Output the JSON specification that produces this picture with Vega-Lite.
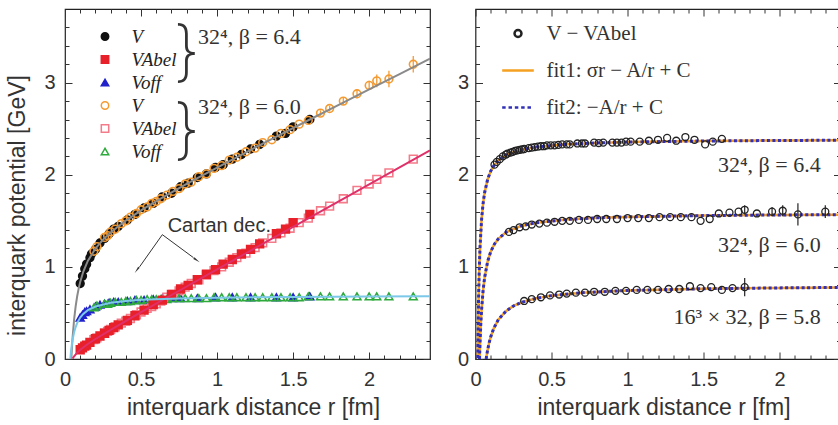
{
  "$schema": "https://vega.github.io/schema/vega-lite/v6.json",
  "padding": {"left": 5, "top": 7, "right": 0, "bottom": 0},
  "spacing": 24.5,
  "background": "white",
  "resolve": {
    "scale": {"color": "independent", "shape": "independent", "fill": "independent", "stroke": "independent", "size": "independent"},
    "legend": {"color": "independent", "shape": "independent", "fill": "independent", "stroke": "independent", "size": "independent"}
  },
  "config": {
    "view": {"stroke": "#222222", "strokeWidth": 1.2},
    "axis": {"domain": false, "grid": false, "labelFont": "Liberation Sans", "labelFontSize": 20, "labelColor": "#333333", "titleFont": "Liberation Sans", "titleFontSize": 23, "titleFontWeight": "normal", "titleColor": "#333333", "tickColor": "#333333", "tickWidth": 1},
    "legend": {"labelFontWeight": "normal"}
  },
  "datasets": {
    "pts": [
      {"s":"Voff|6.4","r":0.10,"V":0.45},{"s":"Voff|6.4","r":0.115,"V":0.48},{"s":"Voff|6.4","r":0.13,"V":0.51},{"s":"Voff|6.4","r":0.142,"V":0.52},{"s":"Voff|6.4","r":0.164,"V":0.54},{"s":"Voff|6.4","r":0.2,"V":0.57},{"s":"Voff|6.4","r":0.23,"V":0.59},{"s":"Voff|6.4","r":0.26,"V":0.60},{"s":"Voff|6.4","r":0.29,"V":0.61},{"s":"Voff|6.4","r":0.32,"V":0.62},{"s":"Voff|6.4","r":0.35,"V":0.62},{"s":"Voff|6.4","r":0.41,"V":0.63},{"s":"Voff|6.4","r":0.46,"V":0.64},{"s":"Voff|6.4","r":0.52,"V":0.64},{"s":"Voff|6.4","r":0.58,"V":0.65},{"s":"Voff|6.4","r":0.64,"V":0.66},{"s":"Voff|6.4","r":0.70,"V":0.66},{"s":"Voff|6.4","r":0.76,"V":0.66},{"s":"Voff|6.4","r":0.87,"V":0.66},{"s":"Voff|6.4","r":0.99,"V":0.67},{"s":"Voff|6.4","r":1.10,"V":0.67},{"s":"Voff|6.4","r":1.22,"V":0.67},{"s":"Voff|6.4","r":1.39,"V":0.67},{"s":"Voff|6.4","r":1.50,"V":0.67},{"s":"Voff|6.4","r":1.61,"V":0.68},
      {"s":"VAbel|6.0","r":0.19,"V":0.21},{"s":"VAbel|6.0","r":0.21,"V":0.23},{"s":"VAbel|6.0","r":0.26,"V":0.28},{"s":"VAbel|6.0","r":0.28,"V":0.30},{"s":"VAbel|6.0","r":0.30,"V":0.32},{"s":"VAbel|6.0","r":0.33,"V":0.35},{"s":"VAbel|6.0","r":0.37,"V":0.39},{"s":"VAbel|6.0","r":0.40,"V":0.41},{"s":"VAbel|6.0","r":0.43,"V":0.44},{"s":"VAbel|6.0","r":0.47,"V":0.48},{"s":"VAbel|6.0","r":0.50,"V":0.51},{"s":"VAbel|6.0","r":0.54,"V":0.55},{"s":"VAbel|6.0","r":0.57,"V":0.57},{"s":"VAbel|6.0","r":0.60,"V":0.60},{"s":"VAbel|6.0","r":0.63,"V":0.63},{"s":"VAbel|6.0","r":0.67,"V":0.67},{"s":"VAbel|6.0","r":0.71,"V":0.70},{"s":"VAbel|6.0","r":0.75,"V":0.74},{"s":"VAbel|6.0","r":0.79,"V":0.78},{"s":"VAbel|6.0","r":0.83,"V":0.82},{"s":"VAbel|6.0","r":0.88,"V":0.86},{"s":"VAbel|6.0","r":0.93,"V":0.91},{"s":"VAbel|6.0","r":0.98,"V":0.96},{"s":"VAbel|6.0","r":1.03,"V":1.00},{"s":"VAbel|6.0","r":1.08,"V":1.05},{"s":"VAbel|6.0","r":1.13,"V":1.10},{"s":"VAbel|6.0","r":1.19,"V":1.15},{"s":"VAbel|6.0","r":1.25,"V":1.21},{"s":"VAbel|6.0","r":1.30,"V":1.26},{"s":"VAbel|6.0","r":1.36,"V":1.31},{"s":"VAbel|6.0","r":1.42,"V":1.37},{"s":"VAbel|6.0","r":1.48,"V":1.42},{"s":"VAbel|6.0","r":1.54,"V":1.48},{"s":"VAbel|6.0","r":1.60,"V":1.53},{"s":"VAbel|6.0","r":1.68,"V":1.61},{"s":"VAbel|6.0","r":1.74,"V":1.66},{"s":"VAbel|6.0","r":1.83,"V":1.74},{"s":"VAbel|6.0","r":1.92,"V":1.83},{"s":"VAbel|6.0","r":2.00,"V":1.90},{"s":"VAbel|6.0","r":2.05,"V":1.95},{"s":"VAbel|6.0","r":2.13,"V":2.02},{"s":"VAbel|6.0","r":2.29,"V":2.17},
      {"s":"V|6.4","r":0.10,"V":0.82},{"s":"V|6.4","r":0.115,"V":0.90},{"s":"V|6.4","r":0.13,"V":0.98},{"s":"V|6.4","r":0.142,"V":1.03},{"s":"V|6.4","r":0.164,"V":1.10},{"s":"V|6.4","r":0.174,"V":1.14},{"s":"V|6.4","r":0.2,"V":1.19},{"s":"V|6.4","r":0.23,"V":1.26},{"s":"V|6.4","r":0.26,"V":1.31},{"s":"V|6.4","r":0.29,"V":1.36},{"s":"V|6.4","r":0.32,"V":1.41},{"s":"V|6.4","r":0.35,"V":1.44},{"s":"V|6.4","r":0.41,"V":1.51},{"s":"V|6.4","r":0.46,"V":1.57},{"s":"V|6.4","r":0.52,"V":1.64},{"s":"V|6.4","r":0.58,"V":1.69},{"s":"V|6.4","r":0.64,"V":1.76},{"s":"V|6.4","r":0.70,"V":1.80},{"s":"V|6.4","r":0.76,"V":1.87},{"s":"V|6.4","r":0.81,"V":1.91},{"s":"V|6.4","r":0.87,"V":1.97},{"s":"V|6.4","r":0.93,"V":2.01},{"s":"V|6.4","r":0.99,"V":2.08},{"s":"V|6.4","r":1.04,"V":2.11},{"s":"V|6.4","r":1.10,"V":2.17},{"s":"V|6.4","r":1.16,"V":2.22},{"s":"V|6.4","r":1.22,"V":2.28},{"s":"V|6.4","r":1.28,"V":2.33},{"s":"V|6.4","r":1.39,"V":2.42},{"s":"V|6.4","r":1.45,"V":2.45},{"s":"V|6.4","r":1.50,"V":2.52},{"s":"V|6.4","r":1.61,"V":2.60},
      {"s":"V|6.0","r":0.19,"V":1.17},{"s":"V|6.0","r":0.21,"V":1.22},{"s":"V|6.0","r":0.26,"V":1.32},{"s":"V|6.0","r":0.28,"V":1.34},{"s":"V|6.0","r":0.30,"V":1.38},{"s":"V|6.0","r":0.33,"V":1.41},{"s":"V|6.0","r":0.37,"V":1.47},{"s":"V|6.0","r":0.40,"V":1.50},{"s":"V|6.0","r":0.43,"V":1.54},{"s":"V|6.0","r":0.47,"V":1.58},{"s":"V|6.0","r":0.50,"V":1.62},{"s":"V|6.0","r":0.54,"V":1.65},{"s":"V|6.0","r":0.57,"V":1.69},{"s":"V|6.0","r":0.60,"V":1.71},{"s":"V|6.0","r":0.63,"V":1.74},{"s":"V|6.0","r":0.67,"V":1.78},{"s":"V|6.0","r":0.71,"V":1.82},{"s":"V|6.0","r":0.75,"V":1.85},{"s":"V|6.0","r":0.79,"V":1.90},{"s":"V|6.0","r":0.83,"V":1.92},{"s":"V|6.0","r":0.88,"V":1.98},{"s":"V|6.0","r":0.93,"V":2.01},{"s":"V|6.0","r":0.98,"V":2.07},{"s":"V|6.0","r":1.03,"V":2.10},{"s":"V|6.0","r":1.08,"V":2.16},{"s":"V|6.0","r":1.13,"V":2.19},{"s":"V|6.0","r":1.19,"V":2.25},{"s":"V|6.0","r":1.25,"V":2.29},{"s":"V|6.0","r":1.30,"V":2.35},{"s":"V|6.0","r":1.36,"V":2.38},{"s":"V|6.0","r":1.42,"V":2.45},{"s":"V|6.0","r":1.48,"V":2.49},{"s":"V|6.0","r":1.54,"V":2.55},{"s":"V|6.0","r":1.60,"V":2.59},{"s":"V|6.0","r":1.68,"V":2.67},{"s":"V|6.0","r":1.74,"V":2.72},{"s":"V|6.0","r":1.83,"V":2.80},{"s":"V|6.0","r":1.92,"V":2.88},{"s":"V|6.0","r":2.00,"V":2.97},{"s":"V|6.0","r":2.05,"V":3.02},{"s":"V|6.0","r":2.13,"V":3.04},{"s":"V|6.0","r":2.29,"V":3.20},
      {"s":"Voff|6.0","r":0.19,"V":0.56},{"s":"Voff|6.0","r":0.21,"V":0.58},{"s":"Voff|6.0","r":0.26,"V":0.60},{"s":"Voff|6.0","r":0.28,"V":0.60},{"s":"Voff|6.0","r":0.30,"V":0.61},{"s":"Voff|6.0","r":0.33,"V":0.62},{"s":"Voff|6.0","r":0.37,"V":0.62},{"s":"Voff|6.0","r":0.40,"V":0.63},{"s":"Voff|6.0","r":0.43,"V":0.63},{"s":"Voff|6.0","r":0.47,"V":0.64},{"s":"Voff|6.0","r":0.50,"V":0.64},{"s":"Voff|6.0","r":0.54,"V":0.65},{"s":"Voff|6.0","r":0.57,"V":0.65},{"s":"Voff|6.0","r":0.60,"V":0.65},{"s":"Voff|6.0","r":0.63,"V":0.65},{"s":"Voff|6.0","r":0.67,"V":0.65},{"s":"Voff|6.0","r":0.71,"V":0.66},{"s":"Voff|6.0","r":0.75,"V":0.66},{"s":"Voff|6.0","r":0.79,"V":0.66},{"s":"Voff|6.0","r":0.83,"V":0.66},{"s":"Voff|6.0","r":0.88,"V":0.66},{"s":"Voff|6.0","r":0.93,"V":0.66},{"s":"Voff|6.0","r":0.98,"V":0.67},{"s":"Voff|6.0","r":1.03,"V":0.67},{"s":"Voff|6.0","r":1.08,"V":0.67},{"s":"Voff|6.0","r":1.13,"V":0.67},{"s":"Voff|6.0","r":1.19,"V":0.67},{"s":"Voff|6.0","r":1.25,"V":0.67},{"s":"Voff|6.0","r":1.30,"V":0.67},{"s":"Voff|6.0","r":1.36,"V":0.67},{"s":"Voff|6.0","r":1.42,"V":0.67},{"s":"Voff|6.0","r":1.48,"V":0.67},{"s":"Voff|6.0","r":1.54,"V":0.67},{"s":"Voff|6.0","r":1.60,"V":0.68},{"s":"Voff|6.0","r":1.68,"V":0.68},{"s":"Voff|6.0","r":1.74,"V":0.68},{"s":"Voff|6.0","r":1.83,"V":0.68},{"s":"Voff|6.0","r":1.92,"V":0.68},{"s":"Voff|6.0","r":2.00,"V":0.68},{"s":"Voff|6.0","r":2.05,"V":0.68},{"s":"Voff|6.0","r":2.13,"V":0.68},{"s":"Voff|6.0","r":2.29,"V":0.68},
      {"s":"VAbel|6.4","r":0.10,"V":0.10},{"s":"VAbel|6.4","r":0.115,"V":0.12},{"s":"VAbel|6.4","r":0.13,"V":0.14},{"s":"VAbel|6.4","r":0.142,"V":0.15},{"s":"VAbel|6.4","r":0.164,"V":0.18},{"s":"VAbel|6.4","r":0.2,"V":0.22},{"s":"VAbel|6.4","r":0.23,"V":0.25},{"s":"VAbel|6.4","r":0.26,"V":0.28},{"s":"VAbel|6.4","r":0.29,"V":0.31},{"s":"VAbel|6.4","r":0.32,"V":0.34},{"s":"VAbel|6.4","r":0.35,"V":0.37},{"s":"VAbel|6.4","r":0.41,"V":0.42},{"s":"VAbel|6.4","r":0.46,"V":0.47},{"s":"VAbel|6.4","r":0.52,"V":0.53},{"s":"VAbel|6.4","r":0.58,"V":0.59},{"s":"VAbel|6.4","r":0.64,"V":0.64},{"s":"VAbel|6.4","r":0.70,"V":0.70},{"s":"VAbel|6.4","r":0.76,"V":0.76},{"s":"VAbel|6.4","r":0.81,"V":0.80},{"s":"VAbel|6.4","r":0.87,"V":0.86},{"s":"VAbel|6.4","r":0.93,"V":0.92},{"s":"VAbel|6.4","r":0.99,"V":0.97},{"s":"VAbel|6.4","r":1.04,"V":1.03},{"s":"VAbel|6.4","r":1.10,"V":1.08},{"s":"VAbel|6.4","r":1.16,"V":1.14},{"s":"VAbel|6.4","r":1.22,"V":1.19},{"s":"VAbel|6.4","r":1.28,"V":1.25},{"s":"VAbel|6.4","r":1.39,"V":1.36},{"s":"VAbel|6.4","r":1.45,"V":1.41},{"s":"VAbel|6.4","r":1.50,"V":1.48},{"s":"VAbel|6.4","r":1.61,"V":1.57}
    ],
    "err": [
      {"r":1.68,"lo":2.64,"hi":2.70},{"r":1.74,"lo":2.69,"hi":2.75},{"r":1.83,"lo":2.76,"hi":2.84},{"r":1.92,"lo":2.83,"hi":2.93},{"r":2.00,"lo":2.92,"hi":3.02},{"r":2.05,"lo":2.95,"hi":3.09},{"r":2.13,"lo":2.95,"hi":3.13},{"r":2.29,"lo":3.11,"hi":3.29}
    ],
    "fits": [
      {"f":"V","r":0.0415,"V":0},{"f":"V","r":0.045,"V":0.107},{"f":"V","r":0.05,"V":0.236},{"f":"V","r":0.06,"V":0.431},{"f":"V","r":0.07,"V":0.572},{"f":"V","r":0.08,"V":0.681},{"f":"V","r":0.09,"V":0.767},{"f":"V","r":0.1,"V":0.837},{"f":"V","r":0.12,"V":0.947},{"f":"V","r":0.15,"V":1.065},{"f":"V","r":0.2,"V":1.199},{"f":"V","r":0.25,"V":1.296},{"f":"V","r":0.3,"V":1.374},{"f":"V","r":0.4,"V":1.503},{"f":"V","r":0.5,"V":1.613},{"f":"V","r":0.6,"V":1.714},{"f":"V","r":0.8,"V":1.901},{"f":"V","r":1.0,"V":2.079},{"f":"V","r":1.2,"V":2.252},{"f":"V","r":1.4,"V":2.423},{"f":"V","r":1.6,"V":2.592},{"f":"V","r":1.8,"V":2.760},{"f":"V","r":2.0,"V":2.927},{"f":"V","r":2.2,"V":3.094},{"f":"V","r":2.4,"V":3.260},
      {"f":"VAbel","r":0.05,"V":0.004},{"f":"VAbel","r":0.06,"V":0.030},{"f":"VAbel","r":0.08,"V":0.069},{"f":"VAbel","r":0.1,"V":0.1},{"f":"VAbel","r":0.15,"V":0.163},{"f":"VAbel","r":0.2,"V":0.217},{"f":"VAbel","r":0.3,"V":0.317},{"f":"VAbel","r":0.5,"V":0.508},{"f":"VAbel","r":0.75,"V":0.741},{"f":"VAbel","r":1.0,"V":0.973},{"f":"VAbel","r":1.5,"V":1.435},{"f":"VAbel","r":2.0,"V":1.896},{"f":"VAbel","r":2.4,"V":2.264},
      {"f":"Voff","r":0.035,"V":0.004},{"f":"Voff","r":0.04,"V":0.09},{"f":"Voff","r":0.045,"V":0.157},{"f":"Voff","r":0.05,"V":0.21},{"f":"Voff","r":0.06,"V":0.29},{"f":"Voff","r":0.07,"V":0.347},{"f":"Voff","r":0.08,"V":0.39},{"f":"Voff","r":0.1,"V":0.45},{"f":"Voff","r":0.12,"V":0.49},{"f":"Voff","r":0.15,"V":0.53},{"f":"Voff","r":0.2,"V":0.57},{"f":"Voff","r":0.3,"V":0.61},{"f":"Voff","r":0.4,"V":0.63},{"f":"Voff","r":0.5,"V":0.642},{"f":"Voff","r":0.75,"V":0.658},{"f":"Voff","r":1.0,"V":0.666},{"f":"Voff","r":1.5,"V":0.674},{"f":"Voff","r":2.0,"V":0.678},{"f":"Voff","r":2.4,"V":0.68}
    ],
    "diff": [
      {"lat":"a","r":0.125,"V":2.11},{"lat":"a","r":0.14,"V":2.14},{"lat":"a","r":0.16,"V":2.17},{"lat":"a","r":0.18,"V":2.20},{"lat":"a","r":0.2,"V":2.22},{"lat":"a","r":0.21,"V":2.23},{"lat":"a","r":0.23,"V":2.24},{"lat":"a","r":0.245,"V":2.25},{"lat":"a","r":0.26,"V":2.26},{"lat":"a","r":0.275,"V":2.265},{"lat":"a","r":0.29,"V":2.27},{"lat":"a","r":0.305,"V":2.275},{"lat":"a","r":0.32,"V":2.28},{"lat":"a","r":0.35,"V":2.29},{"lat":"a","r":0.37,"V":2.295},{"lat":"a","r":0.39,"V":2.30},{"lat":"a","r":0.41,"V":2.305},{"lat":"a","r":0.43,"V":2.31},{"lat":"a","r":0.45,"V":2.31},{"lat":"a","r":0.47,"V":2.32},{"lat":"a","r":0.495,"V":2.32},{"lat":"a","r":0.52,"V":2.32},{"lat":"a","r":0.545,"V":2.325},{"lat":"a","r":0.57,"V":2.33},{"lat":"a","r":0.6,"V":2.33},{"lat":"a","r":0.62,"V":2.33},{"lat":"a","r":0.67,"V":2.34},{"lat":"a","r":0.7,"V":2.34},{"lat":"a","r":0.72,"V":2.34},{"lat":"a","r":0.78,"V":2.35},{"lat":"a","r":0.81,"V":2.345},{"lat":"a","r":0.84,"V":2.35},{"lat":"a","r":0.9,"V":2.35},{"lat":"a","r":0.93,"V":2.35},{"lat":"a","r":0.96,"V":2.35},{"lat":"a","r":0.99,"V":2.36},{"lat":"a","r":1.02,"V":2.36},{"lat":"a","r":1.08,"V":2.36},{"lat":"a","r":1.14,"V":2.37},{"lat":"a","r":1.2,"V":2.38},{"lat":"a","r":1.26,"V":2.40},{"lat":"a","r":1.32,"V":2.37},{"lat":"a","r":1.38,"V":2.41},{"lat":"a","r":1.44,"V":2.38},{"lat":"a","r":1.51,"V":2.33},{"lat":"a","r":1.56,"V":2.36},{"lat":"a","r":1.62,"V":2.39},
      {"lat":"b","r":0.22,"V":1.38},{"lat":"b","r":0.25,"V":1.40},{"lat":"b","r":0.29,"V":1.43},{"lat":"b","r":0.33,"V":1.44},{"lat":"b","r":0.37,"V":1.46},{"lat":"b","r":0.42,"V":1.47},{"lat":"b","r":0.47,"V":1.48},{"lat":"b","r":0.52,"V":1.49},{"lat":"b","r":0.57,"V":1.50},{"lat":"b","r":0.62,"V":1.50},{"lat":"b","r":0.68,"V":1.51},{"lat":"b","r":0.74,"V":1.51},{"lat":"b","r":0.8,"V":1.52},{"lat":"b","r":0.86,"V":1.52},{"lat":"b","r":0.93,"V":1.52},{"lat":"b","r":1.0,"V":1.53},{"lat":"b","r":1.07,"V":1.53},{"lat":"b","r":1.14,"V":1.53},{"lat":"b","r":1.21,"V":1.54},{"lat":"b","r":1.28,"V":1.54},{"lat":"b","r":1.35,"V":1.54},{"lat":"b","r":1.42,"V":1.54},{"lat":"b","r":1.48,"V":1.50},{"lat":"b","r":1.54,"V":1.52},{"lat":"b","r":1.6,"V":1.58},{"lat":"b","r":1.67,"V":1.59},{"lat":"b","r":1.73,"V":1.60},{"lat":"b","r":1.77,"V":1.62},{"lat":"b","r":1.85,"V":1.58},{"lat":"b","r":1.95,"V":1.60},{"lat":"b","r":2.02,"V":1.61},{"lat":"b","r":2.12,"V":1.57},{"lat":"b","r":2.3,"V":1.60},
      {"lat":"c","r":0.32,"V":0.63},{"lat":"c","r":0.37,"V":0.65},{"lat":"c","r":0.43,"V":0.67},{"lat":"c","r":0.49,"V":0.69},{"lat":"c","r":0.55,"V":0.70},{"lat":"c","r":0.6,"V":0.71},{"lat":"c","r":0.66,"V":0.72},{"lat":"c","r":0.72,"V":0.72},{"lat":"c","r":0.78,"V":0.73},{"lat":"c","r":0.85,"V":0.73},{"lat":"c","r":0.92,"V":0.74},{"lat":"c","r":0.99,"V":0.74},{"lat":"c","r":1.06,"V":0.75},{"lat":"c","r":1.13,"V":0.75},{"lat":"c","r":1.2,"V":0.75},{"lat":"c","r":1.27,"V":0.76},{"lat":"c","r":1.34,"V":0.76},{"lat":"c","r":1.41,"V":0.79},{"lat":"c","r":1.48,"V":0.77},{"lat":"c","r":1.55,"V":0.78},{"lat":"c","r":1.62,"V":0.75},{"lat":"c","r":1.69,"V":0.77},{"lat":"c","r":1.77,"V":0.78}
    ],
    "derr": [
      {"r":1.77,"lo":1.57,"hi":1.67},{"r":1.95,"lo":1.55,"hi":1.65},{"r":2.02,"lo":1.55,"hi":1.67},{"r":2.12,"lo":1.45,"hi":1.69},{"r":2.3,"lo":1.53,"hi":1.67},{"r":1.77,"lo":0.68,"hi":0.88}
    ],
    "dfit": [
      {"lat":"a","r":0.0147,"V":0.01},{"lat":"a","r":0.02,"V":0.64},{"lat":"a","r":0.025,"V":0.99},{"lat":"a","r":0.03,"V":1.22},{"lat":"a","r":0.04,"V":1.515},{"lat":"a","r":0.05,"V":1.69},{"lat":"a","r":0.06,"V":1.807},{"lat":"a","r":0.08,"V":1.952},{"lat":"a","r":0.1,"V":2.04},{"lat":"a","r":0.125,"V":2.11},{"lat":"a","r":0.15,"V":2.157},{"lat":"a","r":0.2,"V":2.215},{"lat":"a","r":0.3,"V":2.273},{"lat":"a","r":0.4,"V":2.3025},{"lat":"a","r":0.6,"V":2.332},{"lat":"a","r":0.8,"V":2.346},{"lat":"a","r":1.0,"V":2.355},{"lat":"a","r":1.5,"V":2.367},{"lat":"a","r":2.0,"V":2.3725},{"lat":"a","r":2.4,"V":2.375},
      {"lat":"b","r":0.0265,"V":0},{"lat":"b","r":0.03,"V":0.185},{"lat":"b","r":0.035,"V":0.385},{"lat":"b","r":0.04,"V":0.535},{"lat":"b","r":0.05,"V":0.745},{"lat":"b","r":0.06,"V":0.885},{"lat":"b","r":0.08,"V":1.06},{"lat":"b","r":0.1,"V":1.165},{"lat":"b","r":0.125,"V":1.249},{"lat":"b","r":0.15,"V":1.305},{"lat":"b","r":0.2,"V":1.375},{"lat":"b","r":0.3,"V":1.445},{"lat":"b","r":0.4,"V":1.48},{"lat":"b","r":0.6,"V":1.515},{"lat":"b","r":0.8,"V":1.5325},{"lat":"b","r":1.0,"V":1.543},{"lat":"b","r":1.5,"V":1.557},{"lat":"b","r":2.0,"V":1.564},{"lat":"b","r":2.4,"V":1.5675},
      {"lat":"c","r":0.07,"V":0},{"lat":"c","r":0.075,"V":0.053},{"lat":"c","r":0.08,"V":0.1},{"lat":"c","r":0.09,"V":0.178},{"lat":"c","r":0.1,"V":0.24},{"lat":"c","r":0.12,"V":0.333},{"lat":"c","r":0.15,"V":0.427},{"lat":"c","r":0.2,"V":0.52},{"lat":"c","r":0.25,"V":0.576},{"lat":"c","r":0.3,"V":0.613},{"lat":"c","r":0.4,"V":0.66},{"lat":"c","r":0.5,"V":0.688},{"lat":"c","r":0.7,"V":0.72},{"lat":"c","r":1.0,"V":0.744},{"lat":"c","r":1.5,"V":0.763},{"lat":"c","r":2.0,"V":0.772},{"lat":"c","r":2.4,"V":0.777}
    ],
    "hl": [{"V":2.41},{"V":1.60},{"V":0.81}]
  },
  "hconcat": [
    {
      "width": 365,
      "height": 350,
      "encoding": {
        "x": {"field": "r", "type": "quantitative", "scale": {"domain": [0, 2.4], "nice": false, "zero": false}, "axis": null},
        "y": {"field": "V", "type": "quantitative", "scale": {"domain": [0, 3.8], "nice": false, "zero": false}, "axis": null}
      },
      "layer": [
        {
          "data": {"name": "pts"},
          "mark": {"type": "point", "strokeWidth": 1.6, "opacity": 1, "size": 60, "clip": true},
          "encoding": {
            "x": {"field": "r", "type": "quantitative", "scale": {"domain": [0, 2.4], "nice": false, "zero": false},
              "axis": {"orient": "bottom", "title": "interquark distance r [fm]", "titleX": 188, "values": [0,0.1,0.2,0.3,0.4,0.5,0.6,0.7,0.8,0.9,1,1.1,1.2,1.3,1.4,1.5,1.6,1.7,1.8,1.9,2,2.1,2.2,2.3,2.4],
                "labelExpr": "abs(datum.value*2-round(datum.value*2))<0.001 ? format(datum.value,'~g') : ''",
                "labelFlush": false, "labelOverlap": false, "labelPadding": 17, "titlePadding": 4,
                "tickSize": {"condition": {"test": "abs(datum.value*2-round(datum.value*2))<0.001", "value": -7}, "value": -4}}},
            "y": {"field": "V", "type": "quantitative", "scale": {"domain": [0, 3.8], "nice": false, "zero": false},
              "axis": {"orient": "left", "title": "interquark potential [GeV]", "titleY": 196, "values": [0,0.2,0.4,0.6,0.8,1,1.2,1.4,1.6,1.8,2,2.2,2.4,2.6,2.8,3,3.2,3.4,3.6],
                "labelExpr": "abs(datum.value-round(datum.value))<0.001 ? format(datum.value,'d') : ''",
                "labelOverlap": false, "labelPadding": 17, "titlePadding": 14.5,
                "tickSize": {"condition": {"test": "abs(datum.value-round(datum.value))<0.001", "value": -7}, "value": -4}}},
            "shape": {"field": "s", "type": "nominal",
              "scale": {"domain": ["V|6.4","VAbel|6.4","Voff|6.4","V|6.0","VAbel|6.0","Voff|6.0"], "range": ["circle","square","triangle-up","circle","square","triangle-up"]},
              "legend": {"title": null, "orient": "none", "legendX": 30.5, "legendY": 18, "labelFont": "Liberation Serif", "labelFontStyle": "italic", "labelFontWeight": "normal", "labelFontSize": 19, "labelColor": "#222222", "symbolSize": 55, "symbolStrokeWidth": 1.5, "rowPadding": 3, "labelOffset": 17, "labelExpr": "split(datum.label,'|')[0]"}},
            "fill": {"field": "s", "type": "nominal",
              "scale": {"domain": ["V|6.4","VAbel|6.4","Voff|6.4","V|6.0","VAbel|6.0","Voff|6.0"], "range": ["#111111","#e8202a","#2222cc","transparent","transparent","transparent"]},
              "legend": {"title": null, "orient": "none", "legendX": 30.5, "legendY": 18, "labelFont": "Liberation Serif", "labelFontStyle": "italic", "labelFontWeight": "normal", "labelFontSize": 19, "labelColor": "#222222", "symbolSize": 55, "symbolStrokeWidth": 1.5, "rowPadding": 3, "labelOffset": 17, "labelExpr": "split(datum.label,'|')[0]"}},
            "stroke": {"field": "s", "type": "nominal",
              "scale": {"domain": ["V|6.4","VAbel|6.4","Voff|6.4","V|6.0","VAbel|6.0","Voff|6.0"], "range": ["#111111","#e8202a","#2222cc","#f59a30","#f47c8a","#2eaa3c"]},
              "legend": {"title": null, "orient": "none", "legendX": 30.5, "legendY": 18, "labelFont": "Liberation Serif", "labelFontStyle": "italic", "labelFontWeight": "normal", "labelFontSize": 19, "labelColor": "#222222", "symbolSize": 55, "symbolStrokeWidth": 1.5, "rowPadding": 3, "labelOffset": 17, "labelExpr": "split(datum.label,'|')[0]"}}
          }
        },
        {
          "data": {"name": "err"},
          "mark": {"type": "rule", "color": "#f59a30", "strokeWidth": 1.3},
          "encoding": {
            "y": {"field": "lo", "type": "quantitative", "axis": null},
            "y2": {"field": "hi"}
          }
        },
        {
          "data": {"name": "fits"},
          "mark": {"type": "line", "strokeWidth": 2, "clip": true},
          "encoding": {
            "x": {"field": "r", "type": "quantitative", "scale": {"domain": [0, 2.4], "nice": false, "zero": false},
              "axis": {"orient": "top", "title": null, "labels": false, "values": [0,0.1,0.2,0.3,0.4,0.5,0.6,0.7,0.8,0.9,1,1.1,1.2,1.3,1.4,1.5,1.6,1.7,1.8,1.9,2,2.1,2.2,2.3,2.4],
                "tickSize": {"condition": {"test": "abs(datum.value*2-round(datum.value*2))<0.001", "value": -7}, "value": -4}}},
            "y": {"field": "V", "type": "quantitative", "scale": {"domain": [0, 3.8], "nice": false, "zero": false},
              "axis": {"orient": "right", "title": null, "labels": false, "values": [0,0.2,0.4,0.6,0.8,1,1.2,1.4,1.6,1.8,2,2.2,2.4,2.6,2.8,3,3.2,3.4,3.6],
                "tickSize": {"condition": {"test": "abs(datum.value-round(datum.value))<0.001", "value": -7}, "value": -4}}},
            "color": {"field": "f", "type": "nominal", "scale": {"domain": ["V","VAbel","Voff"], "range": ["#8a8a8a","#e0306a","#7cc8e8"]}, "legend": null}
          }
        },
        {
          "data": {"values": [{"r": 0.875, "V": 3.5, "t": "32⁴, β = 6.4"}, {"r": 0.875, "V": 2.74, "t": "32⁴, β = 6.0"}]},
          "mark": {"type": "text", "align": "left", "baseline": "middle", "font": "Liberation Serif", "fontSize": 22, "color": "#333333"},
          "encoding": {"text": {"field": "t"}}
        },
        {
          "data": {"values": [{"r": 0.8, "V": 3.31}, {"r": 0.8, "V": 2.46}]},
          "mark": {"type": "text", "text": "}", "align": "center", "baseline": "middle", "font": "Inter", "fontWeight": 200, "fontSize": 66, "color": "#333333"}
        },
        {
          "data": {"values": [{"r": 0.675, "V": 1.44, "t": "Cartan dec."}]},
          "mark": {"type": "text", "align": "left", "baseline": "middle", "font": "Liberation Sans", "fontSize": 20, "color": "#333333"},
          "encoding": {"text": {"field": "t"}}
        },
        {
          "data": {"values": [{"r": 0.64, "V": 1.35, "r2": 0.49, "V2": 1.0}, {"r": 0.64, "V": 1.35, "r2": 0.845, "V2": 1.1}]},
          "mark": {"type": "rule", "color": "#333333", "strokeWidth": 1},
          "encoding": {"x2": {"field": "r2"}, "y2": {"field": "V2"}}
        },
        {
          "data": {"values": [{"r": 0.477, "V": 0.975}]},
          "mark": {"type": "point", "shape": "wedge", "angle": 216, "size": 70, "filled": true, "color": "#333333", "opacity": 1}
        },
        {
          "data": {"values": [{"r": 0.86, "V": 1.08}]},
          "mark": {"type": "point", "shape": "wedge", "angle": 126, "size": 70, "filled": true, "color": "#333333", "opacity": 1}
        }
      ]
    },
    {
      "width": 365,
      "height": 350,
      "encoding": {
        "x": {"field": "r", "type": "quantitative", "scale": {"domain": [0, 2.4], "nice": false, "zero": false}, "axis": null},
        "y": {"field": "V", "type": "quantitative", "scale": {"domain": [0, 3.8], "nice": false, "zero": false}, "axis": null}
      },
      "layer": [
        {
          "data": {"name": "hl"},
          "mark": {"type": "rule", "color": "#a0a0a0", "strokeWidth": 1.5},
          "encoding": {
            "x": {"datum": 0, "type": "quantitative", "axis": null},
            "x2": {"datum": 2.4}
          }
        },
        {
          "data": {"name": "dfit"},
          "mark": {"type": "line", "strokeWidth": 2.5, "clip": true},
          "encoding": {
            "x": {"field": "r", "type": "quantitative", "scale": {"domain": [0, 2.4], "nice": false, "zero": false},
              "axis": {"orient": "bottom", "title": "interquark distance r [fm]", "titleX": 188, "values": [0,0.1,0.2,0.3,0.4,0.5,0.6,0.7,0.8,0.9,1,1.1,1.2,1.3,1.4,1.5,1.6,1.7,1.8,1.9,2,2.1,2.2,2.3,2.4],
                "labelExpr": "abs(datum.value*2-round(datum.value*2))<0.001 ? format(datum.value,'~g') : ''",
                "labelFlush": false, "labelOverlap": false, "labelPadding": 17, "titlePadding": 4,
                "tickSize": {"condition": {"test": "abs(datum.value*2-round(datum.value*2))<0.001", "value": -7}, "value": -4}}},
            "y": {"field": "V", "type": "quantitative", "scale": {"domain": [0, 3.8], "nice": false, "zero": false},
              "axis": {"orient": "left", "title": null, "values": [0,0.2,0.4,0.6,0.8,1,1.2,1.4,1.6,1.8,2,2.2,2.4,2.6,2.8,3,3.2,3.4,3.6],
                "labelExpr": "abs(datum.value-round(datum.value))<0.001 ? format(datum.value,'d') : ''",
                "labelOverlap": false, "labelPadding": 14,
                "tickSize": {"condition": {"test": "abs(datum.value-round(datum.value))<0.001", "value": -7}, "value": -4}}},
            "detail": {"field": "lat"},
            "color": {"datum": "fit1: σr − A/r + C",
              "scale": {"domain": ["V − VAbel", "fit1: σr − A/r + C", "fit2: −A/r + C"], "range": ["#222222", "#f5a020", "#3030b8"]},
              "legend": {"title": null, "orient": "none", "legendX": 25, "legendY": 7, "labelFont": "Liberation Serif", "labelFontWeight": "normal", "labelFontSize": 21, "labelColor": "#333333", "symbolSize": 1000, "symbolStrokeWidth": 2.5, "rowPadding": 9, "labelOffset": 11}}
          }
        },
        {
          "data": {"name": "dfit"},
          "mark": {"type": "line", "strokeWidth": 3, "strokeDash": [3, 2.5], "clip": true},
          "encoding": {
            "x": {"field": "r", "type": "quantitative", "scale": {"domain": [0, 2.4], "nice": false, "zero": false},
              "axis": {"orient": "top", "title": null, "labels": false, "values": [0,0.1,0.2,0.3,0.4,0.5,0.6,0.7,0.8,0.9,1,1.1,1.2,1.3,1.4,1.5,1.6,1.7,1.8,1.9,2,2.1,2.2,2.3,2.4],
                "tickSize": {"condition": {"test": "abs(datum.value*2-round(datum.value*2))<0.001", "value": -7}, "value": -4}}},
            "y": {"field": "V", "type": "quantitative", "scale": {"domain": [0, 3.8], "nice": false, "zero": false},
              "axis": {"orient": "right", "title": null, "labels": false, "values": [0,0.2,0.4,0.6,0.8,1,1.2,1.4,1.6,1.8,2,2.2,2.4,2.6,2.8,3,3.2,3.4,3.6],
                "tickSize": {"condition": {"test": "abs(datum.value-round(datum.value))<0.001", "value": -7}, "value": -4}}},
            "detail": {"field": "lat"},
            "color": {"datum": "fit2: −A/r + C",
              "scale": {"domain": ["V − VAbel", "fit1: σr − A/r + C", "fit2: −A/r + C"], "range": ["#222222", "#f5a020", "#3030b8"]},
              "legend": {"title": null, "orient": "none", "legendX": 25, "legendY": 7, "labelFont": "Liberation Serif", "labelFontWeight": "normal", "labelFontSize": 21, "labelColor": "#333333", "symbolSize": 1000, "symbolStrokeWidth": 2.5, "rowPadding": 9, "labelOffset": 11}}
          }
        },
        {
          "data": {"name": "derr"},
          "mark": {"type": "rule", "color": "#222222", "strokeWidth": 1.2},
          "encoding": {
            "y": {"field": "lo", "type": "quantitative", "axis": null},
            "y2": {"field": "hi"}
          }
        },
        {
          "data": {"name": "diff"},
          "mark": {"type": "point", "filled": false, "strokeWidth": 1.3, "size": 1000, "opacity": 1, "clip": true},
          "encoding": {
            "color": {"datum": "V − VAbel",
              "scale": {"domain": ["V − VAbel", "fit1: σr − A/r + C", "fit2: −A/r + C"], "range": ["#222222", "#f5a020", "#3030b8"]},
              "legend": {"title": null, "orient": "none", "legendX": 25, "legendY": 7, "labelFont": "Liberation Serif", "labelFontWeight": "normal", "labelFontSize": 21, "labelColor": "#333333", "symbolSize": 1000, "symbolStrokeWidth": 2.5, "rowPadding": 9, "labelOffset": 11}},
            "shape": {"datum": "V − VAbel",
              "scale": {"domain": ["V − VAbel", "fit1: σr − A/r + C", "fit2: −A/r + C"], "range": ["M0.22,0A0.22,0.22,0,1,1,-0.22,0A0.22,0.22,0,1,1,0.22,0Z", "M-1,0H1", "M-1,0H-0.78M-0.6,0H-0.38M-0.2,0H0.02M0.2,0H0.42M0.6,0H0.82"]},
              "legend": {"title": null, "orient": "none", "legendX": 25, "legendY": 7, "labelFont": "Liberation Serif", "labelFontWeight": "normal", "labelFontSize": 21, "labelColor": "#333333", "symbolSize": 1000, "symbolStrokeWidth": 2.5, "rowPadding": 9, "labelOffset": 11}}
          }
        },
        {
          "data": {"values": [{"r": 2.27, "V": 2.11, "t": "32⁴, β = 6.4"}, {"r": 2.27, "V": 1.24, "t": "32⁴, β = 6.0"}, {"r": 2.27, "V": 0.46, "t": "16³ × 32, β = 5.8"}]},
          "mark": {"type": "text", "align": "right", "baseline": "middle", "font": "Liberation Serif", "fontSize": 22, "color": "#333333"},
          "encoding": {"text": {"field": "t"}}
        }
      ]
    }
  ]
}
